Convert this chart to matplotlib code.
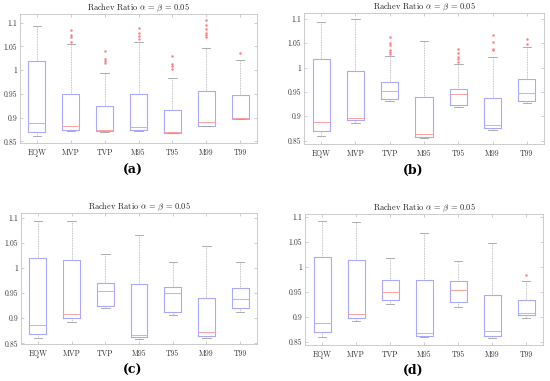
import matplotlib
matplotlib.use("Agg")
import matplotlib.pyplot as plt

plt.rcParams['font.family'] = ['cmr10', 'DejaVu Serif']
plt.rcParams['mathtext.fontset'] = 'cm'
plt.rcParams['axes.unicode_minus'] = False

categories = ["EQW", "MVP", "TVP", "M95", "T95", "M99", "T99"]
title = r"Rachev Ratio $\alpha$ = $\beta$ = 0.05"
yticks = [0.85, 0.9, 0.95, 1.0, 1.05, 1.1]
ytick_labels = ["0.85", "0.9", "0.95", "1", "1.05", "1.1"]
panel_labels = ["(a)", "(b)", "(c)", "(d)"]

# Panel (a)
a_whislo = [0.8604, 0.8709, 0.8700, 0.8716, 0.8667, 0.8813, 0.8960]
a_q1     = [0.8688, 0.8744, 0.8709, 0.8740, 0.8680, 0.8827, 0.8965]
a_med    = [0.8876, 0.8813, 0.8744, 0.8810, 0.8700, 0.8897, 0.8994]
a_q3     = [1.0200, 0.9490, 0.9245, 0.9490, 0.9169, 0.9565, 0.9475]
a_whishi = [1.0930, 1.0554, 0.9940, 1.0590, 0.9830, 1.0457, 1.0206]
a_fliers = [[], [1.085, 1.074, 1.0687, 1.060], [1.0408, 1.0234, 1.0185, 1.015],
            [1.088, 1.0777, 1.0707, 1.065], [1.029, 1.013, 1.008, 1.0025],
            [1.1056, 1.095, 1.086, 1.0777, 1.074, 1.069], [1.035]]

# Panel (b)
b_whislo = [0.8596, 0.8856, 0.9320, 0.8562, 0.9185, 0.8720, 0.9267]
b_q1     = [0.8692, 0.8918, 0.9349, 0.8582, 0.9240, 0.8767, 0.9308]
b_med    = [0.8877, 0.8973, 0.9527, 0.8637, 0.9450, 0.8815, 0.9486]
b_q3     = [1.0185, 0.9938, 0.9712, 0.9404, 0.9562, 0.9377, 0.9774]
b_whishi = [1.0925, 1.1000, 1.0240, 1.0555, 1.0075, 1.0226, 1.0430]
b_fliers = [[], [], [1.0637, 1.0514, 1.0466, 1.035, 1.031, 1.0274], [],
            [1.0377, 1.0295, 1.0226, 1.017, 1.012],
            [1.0658, 1.0527, 1.039, 1.035], [1.059, 1.0486]]

# Panel (c)
c_whislo = [0.8606, 0.8930, 0.9194, 0.8586, 0.9056, 0.8599, 0.9122]
c_q1     = [0.8692, 0.8996, 0.9240, 0.8620, 0.9115, 0.8652, 0.9208]
c_med    = [0.8864, 0.9075, 0.9545, 0.8665, 0.9499, 0.8731, 0.9373]
c_q3     = [1.0193, 1.0160, 0.9690, 0.9670, 0.9624, 0.9393, 0.9598]
c_whishi = [1.0927, 1.0927, 1.0266, 1.0643, 1.0107, 1.0438, 1.0120]
c_fliers = [[], [], [], [], [], [], []]

# Panel (d)
d_whislo = [0.8593, 0.8907, 0.9260, 0.8600, 0.9200, 0.8567, 0.8967]
d_q1     = [0.8687, 0.8980, 0.9327, 0.8620, 0.9287, 0.8620, 0.9033]
d_med    = [0.8867, 0.9060, 0.9487, 0.8680, 0.9527, 0.8713, 0.9080]
d_q3     = [1.0187, 1.0133, 0.9727, 0.9740, 0.9713, 0.9440, 0.9340]
d_whishi = [1.0920, 1.0887, 1.0173, 1.0680, 1.0113, 1.0467, 0.9707]
d_fliers = [[], [], [], [], [], [], [0.984]]

panels = [
    (a_whislo, a_q1, a_med, a_q3, a_whishi, a_fliers),
    (b_whislo, b_q1, b_med, b_q3, b_whishi, b_fliers),
    (c_whislo, c_q1, c_med, c_q3, c_whishi, c_fliers),
    (d_whislo, d_q1, d_med, d_q3, d_whishi, d_fliers),
]

W, H = 550, 381
# axes boxes in pixels: left, top, right, bottom
boxes_px = [(20, 14, 257, 143), (304, 13, 544, 144),
            (21, 213, 257, 344), (305, 214, 543, 345)]
ylims = [(0.8465, 1.118), (0.843, 1.112), (0.8487, 1.109), (0.843, 1.105)]
label_pos = [(133, 170), (413, 170), (133, 370), (413, 370)]

fig = plt.figure(figsize=(W / 100, H / 100), dpi=100)

box_col = "#a8a8ff"
med_col = "#ffa0a0"
wh_col = "#b0b0b0"
cap_col = "#a0a0a0"
fl_col = "#ff8080"

for i, (wlo, q1, med, q3, whi, fl) in enumerate(panels):
    l, t, r, b = boxes_px[i]
    ax = fig.add_axes([l / W, 1 - b / H, (r - l) / W, (b - t) / H])
    stats = []
    for j, cat in enumerate(categories):
        stats.append(dict(label=cat, whislo=wlo[j], q1=q1[j], med=med[j],
                          q3=q3[j], whishi=whi[j], fliers=fl[j]))
    ax.bxp(stats, positions=range(1, len(categories) + 1), widths=0.5,
           showfliers=True,
           boxprops=dict(color=box_col, linewidth=0.8),
           medianprops=dict(color=med_col, linewidth=0.7),
           whiskerprops=dict(color=wh_col, linewidth=0.6, linestyle=(0, (1, 1))),
           capprops=dict(color=cap_col, linewidth=0.6),
           flierprops=dict(marker='o', markeredgecolor='none',
                           markerfacecolor=fl_col, markersize=1.8))
    ax.set_xlim(0.5, 7.5)
    ax.set_ylim(*ylims[i])
    ax.set_yticks(yticks)
    ax.set_yticklabels(ytick_labels)
    ax.tick_params(axis='both', which='both', direction='in', length=2, width=0.5,
                   colors='#bbbbbb', labelcolor='#333333',
                   top=True, right=True, labelsize=5.5)
    ax.tick_params(axis='y', pad=2)
    ax.tick_params(axis='x', pad=4)
    for s in ax.spines.values():
        s.set_color('#c4c4c4')
        s.set_linewidth(0.6)
    ax.set_title(title, fontsize=6, color='#222222', pad=3)
    lx, ly = label_pos[i]
    fig.text(lx / W, 1 - ly / H, panel_labels[i], ha='center', va='center',
             fontsize=9, fontweight='bold', family=['DejaVu Serif'])

fig.savefig("out.png", dpi=100)
